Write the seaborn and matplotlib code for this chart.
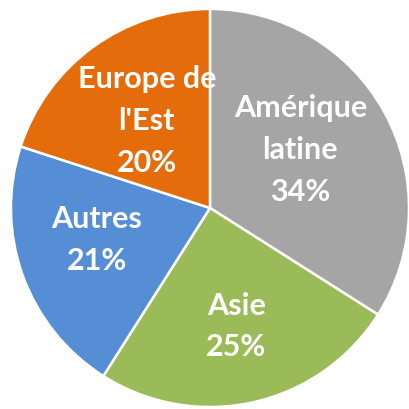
import matplotlib
matplotlib.use("Agg")
import matplotlib.pyplot as plt
import seaborn as sns
import numpy as np

# data
regions = ["Amérique\nlatine", "Asie", "Autres", "Europe de\nl'Est"]
shares = [34, 25, 21, 20]
colors = ["#A5A5A5", "#9BBB59", "#558ED5", "#E46C0A"]

sns.set_theme(style="white")
plt.rcParams["font.family"] = ["Lato", "DejaVu Sans"]

fig = plt.figure(figsize=(4.09, 4.09), dpi=100)
ax = fig.add_axes([0, 0, 1, 1])

labels = ["{}\n{}%".format(r, s) for r, s in zip(regions, shares)]
wedges, texts = ax.pie(shares, labels=labels, colors=colors, startangle=90,
                       counterclock=False, labeldistance=0.57,
                       wedgeprops=dict(edgecolor="white", linewidth=1.8),
                       textprops=dict(color="white", fontsize=22, fontweight="bold",
                                      ha="center", va="center", linespacing=1.6))

# per-slice nudges of the label radius / angle
label_r = [0.54, 0.61, 0.59, 0.54]
label_da = [4, 0, -4, 0]
for w, t, r, da in zip(wedges, texts, label_r, label_da):
    ang = np.deg2rad((w.theta1 + w.theta2) / 2 + da)
    t.set_position((r * np.cos(ang), r * np.sin(ang)))
    t.set_ha("center")

ax.set_xlim(-1.055, 1.0)
ax.set_ylim(-1.01, 1.045)
ax.set_aspect("equal")
ax.axis("off")

fig.savefig("out.png", dpi=100)
